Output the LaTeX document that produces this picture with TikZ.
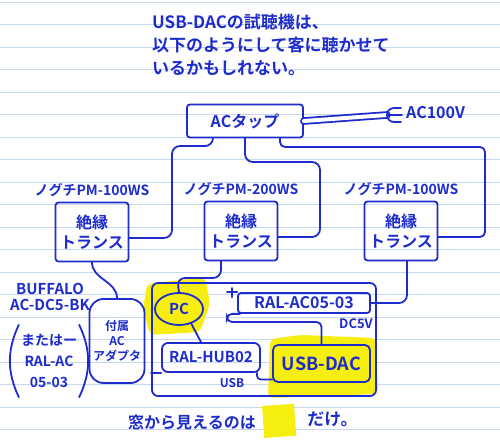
\documentclass[tikz,border=0pt]{standalone}
\usepackage{fontspec}
\setmainfont{Noto Sans CJK JP}[BoldFont={Noto Sans CJK JP Bold}]
\usepackage{tikz}
\usetikzlibrary{positioning,shapes.geometric}
\definecolor{Ink}{HTML}{1E2CCB}
\definecolor{Rule}{HTML}{C8D8F0}
\definecolor{Marker}{HTML}{F5EE10}

\begin{document}
\begin{tikzpicture}[x=1pt,y=1pt,
    bx/.style={draw=Ink,line width=1.8pt,rounded corners=3pt,text=Ink,align=center,inner sep=2pt},
    tx/.style={text=Ink,align=center,inner sep=2pt},
    w/.style={draw=Ink,line width=1.8pt,rounded corners=8pt,line cap=round},
    hl/.style={fill=Marker,rounded corners=6pt}]
  \useasboundingbox (0,0) rectangle (500,444);
  \fill[white] (0,0) rectangle (500,444);
  \foreach \k in {0,...,19}
    \draw[Rule,line width=0.8pt] (0,442-22.5*\k) -- (500,442-22.5*\k);

  % marker behind PC and USB-DAC
  \fill[hl] (147,160) -- (205,167) -- (210,140) -- (200,112) -- (150,109) -- (143,135) -- cycle;
  \fill[hl] (270,105) -- (300,109) -- (376,106) -- (378,50) -- (268,46) -- cycle;

  % heading
  \node[tx,anchor=north west,align=left,font=\bfseries\fontsize{17}{23}\selectfont] (note) at (150,432)
    {USB-DACの試聴機は、\\以下のようにして客に聴かせて\\いるかもしれない。};

  % power in
  \node[bx,minimum width=116,minimum height=33,font=\bfseries\fontsize{16}{16}\selectfont] (tap) at (245,323) {ACタップ};
  \coordinate (plug) at (387,329);
  \draw[w,rounded corners=0pt,double=white,double distance=4pt] (tap.east) -- (plug);
  \draw[w,rounded corners=0pt] (401,336) -- (394,336) arc[start angle=90,end angle=270,radius=7] -- (401,322);
  \draw[w] (plug) -- ++(15,0);
  \node[tx,anchor=west,font=\bfseries\fontsize{16}{16}\selectfont] (ac) at (404,331) {AC100V};

  % transformers
  \node[bx,minimum width=73,minimum height=59,font=\bfseries\fontsize{16}{20}\selectfont] (t1) at (92,212) {絶縁\\トランス};
  \node[bx,minimum width=73,minimum height=59,font=\bfseries\fontsize{16}{20}\selectfont] (t2) at (241,213) {絶縁\\トランス};
  \node[bx,minimum width=73,minimum height=59,font=\bfseries\fontsize{16}{20}\selectfont] (t3) at (401,213) {絶縁\\トランス};
  \node[tx,above=3pt of t1,font=\bfseries\fontsize{14}{14}\selectfont] (l1) {ノグチPM-100WS};
  \node[tx,above=3pt of t2,font=\bfseries\fontsize{14}{14}\selectfont] (l2) {ノグチPM-200WS};
  \node[tx,above=3pt of t3,font=\bfseries\fontsize{14}{14}\selectfont] (l3) {ノグチPM-100WS};
  \draw[w] ([xshift=-32pt]tap.south) |- (172,298) |- ([yshift=-6pt]t1.east);
  \draw[w] (tap.south) |- (320,282) |- ([yshift=-6pt]t2.east);
  \draw[w,rounded corners=5pt] ([xshift=35pt]tap.south) |- (485,297) |- ([yshift=-6pt]t3.east);

  % left side notes and adapter
  \node[tx,font=\bfseries\fontsize{15}{15}\selectfont] (buf) at (50,155) {BUFFALO};
  \node[tx,below=0pt of buf,font=\bfseries\fontsize{15}{15}\selectfont] (model) {AC-DC5-BK};
  \node[tx,minimum width=60,minimum height=72,font=\bfseries\fontsize{14}{21}\selectfont] (alt) at (49,83) {またはー\\RAL-AC\\05-03};
  \draw[w] (alt.north west) to[bend right=25] (alt.south west);
  \draw[w] (alt.north east) to[bend left=25] (alt.south east);
  \node[bx,rounded corners=14pt,minimum width=55,minimum height=84,font=\bfseries\fontsize{12}{15}\selectfont] (adp) at (117,103) {付属\\AC\\アダプタ};
  \draw[w] (t1.south) to[out=-90,in=90] (adp.north);

  % the rack
  \node[bx,rounded corners=6pt,minimum width=224,minimum height=113] (rack) at (264,104.5) {};
  \node[bx,ellipse,minimum width=48,minimum height=32,font=\bfseries\fontsize{15}{15}\selectfont] (pc) at (179,135) {PC};
  \node[bx,minimum width=132,minimum height=20,inner sep=1pt,font=\bfseries\fontsize{16}{16}\selectfont] (psu) at (304,141) {RAL-AC05-03};
  \node[bx,rounded corners=6pt,minimum width=98,minimum height=29,font=\bfseries\fontsize{15}{15}\selectfont] (hub) at (211,86.5) {RAL-HUB02};
  \node[bx,rounded corners=5pt,minimum width=97,minimum height=37,font=\bfseries\fontsize{18}{18}\selectfont] (dac) at (321.5,80.5) {USB-DAC};
  \node[tx,font=\bfseries\fontsize{13}{13}\selectfont] (dc) at (356,120) {DC5V};
  \node[tx,font=\bfseries\fontsize{12}{12}\selectfont] (usb) at (232,61) {USB};

  \draw[w] ([xshift=-20pt]t2.south) |- (177,166) -- (pc.north);
  \draw[w] ([xshift=6pt]t3.south) |- (psu.east);
  \draw[w,rounded corners=0pt] ([xshift=-10pt]psu.north west) -- (psu.north west);
  \draw[w,rounded corners=0pt] ([xshift=-5pt,yshift=4pt]psu.north west) -- ([xshift=-5pt,yshift=-5pt]psu.north west);
  \draw[w,rounded corners=5pt] ([xshift=3pt]psu.south west) -| (227,122) -| (dac.north);
  \draw[w] (pc.-50) -- ([xshift=-10pt]hub.north);
  \draw[w,rounded corners=4pt] ([xshift=-4pt]hub.south east) |- ([yshift=-16pt]dac.west);
  \draw[w] (rack.west |- hub.south west) -- (hub.south west);

  % bottom line
  \node[tx,font=\bfseries\fontsize{16}{16}\selectfont] (win) at (192,22) {窓から見えるのは};
  \node[fill=Marker,minimum size=32,rotate=4,right=5pt of win] (key) {};
  \node[tx,right=10pt of key,font=\bfseries\fontsize{17}{17}\selectfont] (only) {だけ。};
\end{tikzpicture}
\end{document}
